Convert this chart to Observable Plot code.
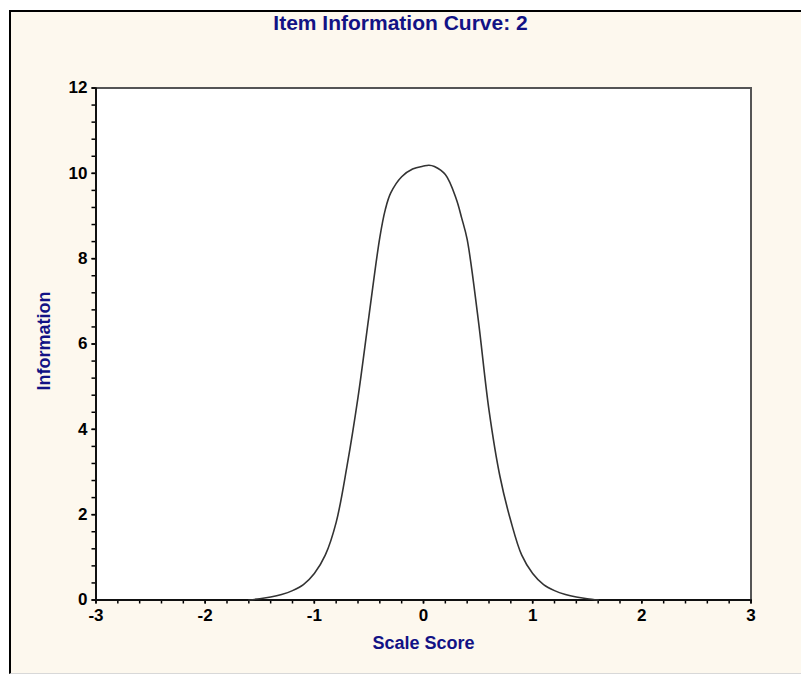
<!DOCTYPE html>
<html>
<head>
<meta charset="utf-8">
<script src="https://cdn.jsdelivr.net/npm/d3@7"></script>
<script src="https://cdn.jsdelivr.net/npm/@observablehq/plot@0.6"></script>
<style>
  html, body { margin: 0; padding: 0; background: #ffffff; }
  #frame {
    position: absolute; left: 9px; top: 10px; width: 792px; height: 664px;
    box-sizing: border-box; background: #fdf8ee;
    border-left: 2px solid #000; border-top: 2px solid #000; border-bottom: 1px solid #d8d8d8;
  }
  #chart { position: absolute; left: 0; top: 0; width: 801px; }
  #title {
    height: 40px; box-sizing: border-box; padding-top: 12px;
    text-align: center; font: bold 21px/21px "Liberation Sans", Arial, sans-serif;
    color: #121285;
  }
</style>
</head>
<body>
<div id="frame"></div>
<div id="chart">
  <div id="title">Item Information Curve: 2</div>
</div>
<script>
// Data
const theta = [-1.6, -1.5, -1.4, -1.3, -1.2, -1.1, -1.0, -0.9, -0.8, -0.7, -0.6, -0.5, -0.4, -0.35, -0.3, -0.2, -0.1, 0.0, 0.05, 0.1, 0.2, 0.3, 0.35, 0.4, 0.5, 0.6, 0.7, 0.8, 0.9, 1.0, 1.1, 1.2, 1.3, 1.4, 1.5, 1.6];
const information = [0.0, 0.03, 0.07, 0.13, 0.22, 0.36, 0.62, 1.05, 1.82, 3.15, 4.75, 6.65, 8.5, 9.15, 9.54, 9.92, 10.1, 10.17, 10.19, 10.16, 9.97, 9.4, 8.95, 8.45, 6.6, 4.45, 2.9, 1.85, 1.05, 0.62, 0.36, 0.22, 0.13, 0.07, 0.03, 0.0];

const xMajorTicks = [-3, -2, -1, 0, 1, 2, 3];
const xTickLabels = ["-3", "-2", "-1", "0", "1", "2", "3"];
const xMinorTicks = d3.range(-3, 3.001, 0.2).map(v => Math.round(v * 10) / 10);
const yMajorTicks = [0, 2, 4, 6, 8, 10, 12];
const yTickLabels = ["0", "2", "4", "6", "8", "10", "12"];
const yMinorTicks = d3.range(0, 12.001, 0.4).map(v => Math.round(v * 10) / 10);

const xTitle = "Scale Score";
const yTitle = "Information";

const curve = d3.zip(theta, information).map(([x, y]) => ({x, y}));

const labelColor = "#121285";

const chart = Plot.plot({
  width: 801,
  height: 635,
  marginLeft: 95.5,
  marginRight: 50.5,
  marginTop: 47.5,
  marginBottom: 75.5,
  style: {
    background: "transparent",
    fontFamily: "'Liberation Sans', Arial, sans-serif",
    fontSize: "17px",
    fontWeight: "bold",
    color: "#000"
  },
  x: {domain: [-3, 3], nice: false},
  y: {domain: [0, 12], nice: false},
  marks: [
    Plot.frame({fill: "white", stroke: "#555", strokeWidth: 2}),
    Plot.axisX({ticks: xMinorTicks, tickSize: 4, tickFormat: () => "", strokeWidth: 1.5, label: null}),
    Plot.axisY({ticks: yMinorTicks, tickSize: 4, tickFormat: () => "", strokeWidth: 1.5, label: null}),
    Plot.axisX({ticks: xMajorTicks, tickSize: 4, tickPadding: 5, strokeWidth: 1.5,
      tickFormat: d => xTickLabels[xMajorTicks.indexOf(d)], label: null, fill: "#000"}),
    Plot.axisY({ticks: yMajorTicks, tickSize: 4, tickPadding: 4.5, strokeWidth: 1.5,
      tickFormat: d => yTickLabels[yMajorTicks.indexOf(d)], label: null, fill: "#000"}),
    Plot.ruleX([-3], {stroke: "#111", strokeWidth: 2}),
    Plot.ruleY([0], {stroke: "#111", strokeWidth: 2}),
    Plot.line(curve, {x: "x", y: "y", stroke: "#333", strokeWidth: 1.6, curve: "catmull-rom"}),
    Plot.text([xTitle], {frameAnchor: "bottom", dy: 43.5, lineAnchor: "middle", text: d => d,
      fill: labelColor, fontSize: 18, fontWeight: "bold"}),
    Plot.text([yTitle], {frameAnchor: "left", dx: -51.5, dy: -3, rotate: -90, textAnchor: "middle", lineAnchor: "middle",
      text: d => d, fill: labelColor, fontSize: 18, fontWeight: "bold"})
  ]
});

document.getElementById("chart").appendChild(chart);
</script>
</body>
</html>
